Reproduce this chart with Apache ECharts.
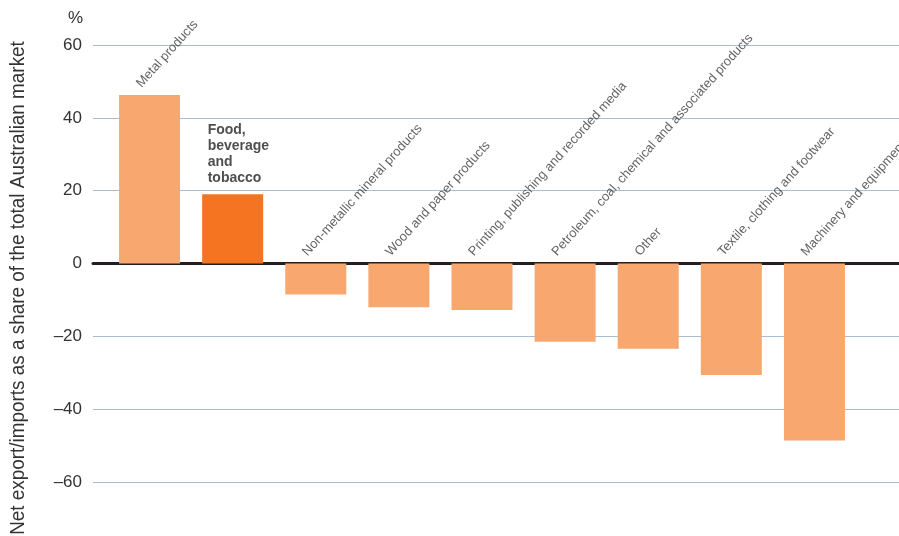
<!DOCTYPE html>
<html>
<head>
<meta charset="utf-8">
<script src="https://cdn.jsdelivr.net/npm/echarts@6/dist/echarts.min.js"></script>
<style>
  html,body{margin:0;padding:0;background:#fff;}
  #container{width:899px;height:536px;}
</style>
</head>
<body>
<div id="container"></div>
<script>
// categories, left to right
var categories = [
    "Metal products",
    "Food,\nbeverage\nand\ntobacco",
    "Non-metallic mineral products",
    "Wood and paper products",
    "Printing, publishing and recorded media",
    "Petroleum, coal, chemical and associated products",
    "Other",
    "Textile, clothing and footwear",
    "Machinery and equipment"
];
// net export/imports as % share of the total Australian market
var values = [46.3, 19.0, -8.5, -12.0, -12.8, -21.5, -23.4, -30.6, -48.6];
var highlight = 1; // food, beverage and tobacco
var yTicks = [-60, -40, -20, 0, 20, 40, 60];

var FONT = '"Liberation Sans",Arial,sans-serif';
var lightColor = '#f8a76f';
var darkColor = '#f47421';

var dom = document.getElementById("container");
var myChart = echarts.init(dom);

var barData = [];
var labelData = [];
for (var i = 0; i < values.length; i++) {
    barData.push({
        value: values[i],
        itemStyle: {color: i == highlight ? darkColor : lightColor}
    });
    var lbl = {
        value: Math.max(values[i], 0),
        label: {}
    };
    if (i == highlight) {
        // horizontal bold label for the highlighted bar
        lbl.label = {
            rotate: 0,
            fontWeight: 'bold',
            fontSize: 14,
            lineHeight: 16,
            color: '#222',
            position: [-25, -8],
            align: 'left',
            verticalAlign: 'bottom'
        };
    }
    labelData.push(lbl);
}

var option = {
    backgroundColor: '#ffffff',
    animation: false,
    textStyle: {fontFamily: FONT},
    grid: [
        // background grid: gridlines across the whole width
        {left: 93, right: 0, top: 45, bottom: 54},
        // bars
        {left: 108, right: 43, top: 45, bottom: 54}
    ],
    xAxis: [{
        gridIndex: 0,
        type: 'value',
        min: 0, max: 1,
        axisLine: {show: true, onZero: true, lineStyle: {color: '#231f20', width: 3}},
        axisTick: {show: false},
        axisLabel: {show: false},
        splitLine: {show: false}
    }, {
        gridIndex: 1,
        type: 'category',
        data: categories,
        axisLine: {show: false},
        axisTick: {show: false},
        axisLabel: {show: false},
        splitLine: {show: false}
    }],
    yAxis: [{
        gridIndex: 0,
        type: 'value',
        min: -60, max: 60, interval: 20,
        axisLine: {show: false},
        axisTick: {show: false},
        axisLabel: {
            margin: 11,
            fontSize: 17,
            color: '#333',
            fontFamily: FONT,
            formatter: function (v) { return v < 0 ? '\u2013' + Math.abs(v) : '' + v; }
        },
        splitLine: {show: true, lineStyle: {color: '#a9bdd3', width: 1}}
    }, {
        gridIndex: 1,
        type: 'value',
        min: -60, max: 60, interval: 20,
        axisLine: {show: false},
        axisTick: {show: false},
        axisLabel: {show: false},
        splitLine: {show: false}
    }],
    series: [{
        type: 'bar',
        xAxisIndex: 1,
        yAxisIndex: 1,
        barWidth: 61,
        data: barData,
        z: 3
    }, {
        // invisible points that carry the category labels
        type: 'scatter',
        xAxisIndex: 1,
        yAxisIndex: 1,
        symbolSize: 0,
        silent: true,
        data: labelData,
        label: {
            show: true,
            formatter: function (p) { return categories[p.dataIndex]; },
            rotate: 48,
            position: [-6, -5],
            align: 'left',
            verticalAlign: 'bottom',
            fontSize: 13,
            color: '#3a3a3a',
            fontFamily: FONT
        },
        z: 5
    }],
    graphic: [{
        type: 'text',
        left: 68,
        top: 10,
        style: {text: '%', fontSize: 17, fill: '#333', fontFamily: FONT}
    }, {
        type: 'text',
        x: 18,
        y: 288,
        rotation: Math.PI / 2,
        scaleX: 0.9,
        style: {
            text: 'Net export/imports as a share of the total Australian market',
            fontSize: 21,
            fill: '#333',
            fontFamily: FONT,
            align: 'center',
            verticalAlign: 'middle'
        }
    }]
};

if (option && typeof option === "object") {
    myChart.setOption(option, true);
}
</script>
</body>
</html>
